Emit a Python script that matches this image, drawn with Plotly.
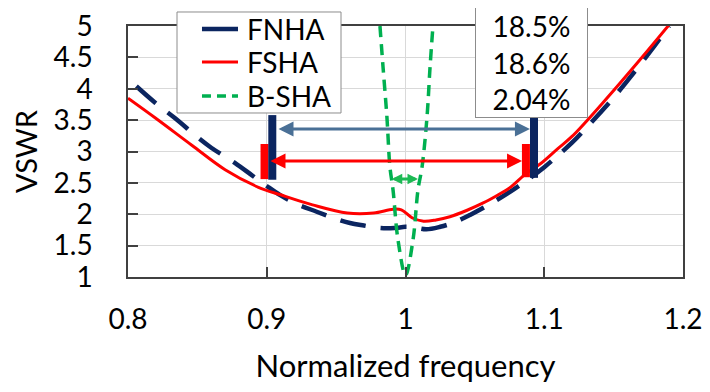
import plotly.graph_objects as go

# ---------------- data ----------------
fnha_x = [0.806, 0.82, 0.834, 0.85, 0.86, 0.877, 0.89, 0.90, 0.91, 0.92, 0.936, 0.948, 0.96, 0.97,
          0.982, 0.992, 1.0, 1.006, 1.015, 1.025, 1.035, 1.0465, 1.063, 1.0775, 1.088, 1.10, 1.11,
          1.12, 1.13, 1.14, 1.15, 1.16, 1.17, 1.18, 1.19]
fnha_y = [4.04, 3.77, 3.53, 3.23, 3.06, 2.82, 2.61, 2.45, 2.30, 2.18, 2.04, 1.94, 1.86, 1.82,
          1.78, 1.78, 1.80, 1.79, 1.76, 1.80, 1.87, 1.99, 2.19, 2.39, 2.55, 2.75, 2.94,
          3.14, 3.37, 3.61, 3.86, 4.13, 4.41, 4.70, 5.0]

fsha_x = [0.80, 0.82, 0.846, 0.87, 0.894, 0.91, 0.933, 0.958, 0.977, 0.991, 0.997, 1.005, 1.013,
          1.022, 1.032, 1.044, 1.056, 1.066, 1.075, 1.0875, 1.097, 1.11, 1.12, 1.142, 1.167, 1.19]
fsha_y = [3.85, 3.53, 3.10, 2.71, 2.43, 2.31, 2.15, 2.02, 2.02, 2.08, 2.07, 1.94, 1.89,
          1.91, 1.96, 2.06, 2.18, 2.30, 2.42, 2.66, 2.80, 3.05, 3.24, 3.77, 4.41, 5.02]

bsha_x = [0.9816, 0.9838, 0.9866, 0.9888, 0.991, 0.9946, 1.0, 1.0054, 1.009, 1.0119, 1.0155, 1.0177, 1.0198]
bsha_y = [5.0, 4.35, 3.55, 2.75, 2.39, 1.59, 1.03, 1.59, 2.39, 2.75, 3.55, 4.35, 5.0]

series_names = ["FNHA", "FSHA", "B-SHA"]

# bandwidth markers (normalized frequency limits and VSWR spans)
fnha_band = [0.904, 1.0926]
fnha_bar_y = [[2.55, 3.58], [2.58, 3.58]]
fsha_band = [0.8984, 1.0868]
fsha_bar_y = [[2.56, 3.12], [2.59, 3.12]]
fnha_arrow = {"x": [0.9074, 1.0897], "y": 3.36}
fsha_arrow = {"x": [0.9016, 1.0840], "y": 2.85}
bsha_arrow = {"x": [0.9890, 1.0090], "y": 2.56}

bandwidth_text = ["18.5%", "18.6%", "2.04%"]

x_ticks = [0.8, 0.9, 1.0, 1.1, 1.2]
x_ticktext = ["0.8", "0.9", "1", "1.1", "1.2"]
y_ticks = [1, 1.5, 2, 2.5, 3, 3.5, 4, 4.5, 5]
y_ticktext = ["1", "1.5", "2", "2.5", "3", "3.5", "4", "4.5", "5"]

# ---------------- styles ----------------
NAVY = "#0B2560"
RED = "#FF0000"
GREEN = "#00B050"
STEEL = "#4A7096"
FONT = "Lato"
FS = 28

styles = [
    dict(color=NAVY, width=4.5, dash="26px,15px"),
    dict(color=RED, width=3),
    dict(color=GREEN, width=3.5, dash="11px,7px"),
]
legend_styles = [
    dict(color=NAVY, width=4.5),
    dict(color=RED, width=3),
    dict(color=GREEN, width=3.5, dash="9px,6px"),
]

fig = go.Figure()

for xs, ys, nm, st in zip([fnha_x, fsha_x, bsha_x], [fnha_y, fsha_y, bsha_y], series_names, styles):
    fig.add_trace(go.Scatter(x=xs, y=ys, mode="lines", name=nm, showlegend=False,
                             line=dict(shape="spline", **st)))

# vertical bandwidth bars
for xb, yb in zip(fsha_band, fsha_bar_y):
    fig.add_trace(go.Scatter(x=[xb, xb], y=yb, mode="lines", showlegend=False, hoverinfo="skip",
                             line=dict(color=RED, width=8)))
for xb, yb in zip(fnha_band, fnha_bar_y):
    fig.add_trace(go.Scatter(x=[xb, xb], y=yb, mode="lines", showlegend=False, hoverinfo="skip",
                             line=dict(color=NAVY, width=8)))

# double arrows
for arr, col, size in [(fnha_arrow, STEEL, 1.0), (fsha_arrow, RED, 1.0), (bsha_arrow, "#1DB954", 0.7)]:
    fig.add_annotation(x=arr["x"][1], y=arr["y"], ax=arr["x"][0], ay=arr["y"],
                       xref="x", yref="y", axref="x", ayref="y", text="",
                       showarrow=True, arrowside="end+start", arrowhead=2,
                       arrowsize=size, arrowwidth=3, arrowcolor=col,
                       standoff=0, startstandoff=0)

# bandwidth text box
fig.add_annotation(xref="paper", yref="paper", x=0.7279, y=1.0757, xanchor="center", yanchor="top",
                   text="<br>".join(bandwidth_text), showarrow=False, align="center",
                   width=111, height=109, valign="middle",
                   font=dict(family=FONT, size=FS, color="black"),
                   bgcolor="white", bordercolor="#8C8C8C", borderwidth=1, borderpad=0)

# legend box (drawn manually to match the compact entry spacing)
fig.add_shape(type="rect", xref="paper", yref="paper", x0=0.0883, x1=0.3838, y0=0.6534, y1=1.0558,
              fillcolor="white", line=dict(color="#8C8C8C", width=1), layer="above")
legend_rows = [0.988, 0.8566, 0.7211]
for nm, ls, yr in zip(series_names, legend_styles, legend_rows):
    fig.add_shape(type="line", xref="paper", yref="paper", x0=0.1333, x1=0.1982, y0=yr, y1=yr,
                  line=ls, layer="above")
    fig.add_annotation(xref="paper", yref="paper", x=0.2108, y=yr, xanchor="left", yanchor="middle",
                       text=nm, showarrow=False, font=dict(family=FONT, size=FS, color="black"))

axis_common = dict(showline=True, linecolor="#404040", linewidth=1.5, mirror=True,
                   ticks="inside", ticklen=10, tickcolor="#404040", tickwidth=1.5,
                   showgrid=True, gridcolor="#D9D9D9", gridwidth=1, zeroline=False,
                   automargin=False, ticklabeloverflow="allow",
                   tickfont=dict(family=FONT, size=FS, color="black"))

fig.update_xaxes(range=[0.8, 1.2], tickvals=x_ticks, ticktext=x_ticktext,
                 ticklabelstandoff=17,
                 title=dict(text="Normalized frequency", standoff=21,
                            font=dict(family=FONT, size=31, color="black")),
                 **axis_common)
fig.update_yaxes(range=[1, 5], tickvals=y_ticks, ticktext=y_ticktext,
                 ticklabelstandoff=28,
                 title=dict(text="VSWR", standoff=10,
                            font=dict(family=FONT, size=29, color="black")),
                 **axis_common)

fig.update_layout(
    width=702, height=384,
    margin=dict(l=120, r=27, t=18, b=115),
    plot_bgcolor="white", paper_bgcolor="white",
    font=dict(family=FONT, size=FS, color="black"),
    showlegend=False,
)

fig.write_html("out.html")
